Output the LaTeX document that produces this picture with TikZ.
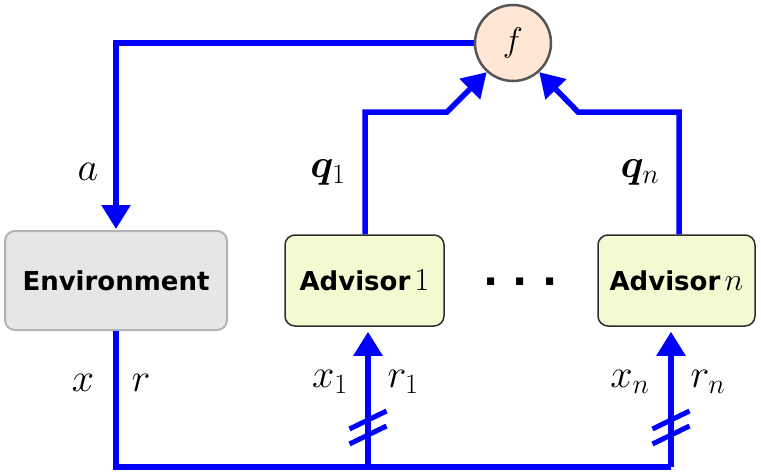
\RequirePackage{fix-cm}
\documentclass[tikz,border=0pt]{standalone}
\usepackage{bm}
\usepackage{fontspec}
\newfontfamily\dejab{DejaVu Sans}
\usetikzlibrary{arrows.meta,calc}
\definecolor{envfill}{HTML}{E6E6E6}
\definecolor{envdraw}{HTML}{B3B3B3}
\definecolor{advfill}{HTML}{F4F9D2}
\definecolor{advdraw}{HTML}{2E2E2E}
\definecolor{ffill}{HTML}{FFE6D5}
\definecolor{fdraw}{HTML}{555555}
\definecolor{wire}{HTML}{0000FF}
\tikzset{
  wirestyle/.style={draw=wire, line width=5.5pt},
  arr/.style={-{Triangle[length=24pt,width=28pt]}},
  envbox/.style={draw=envdraw, fill=envfill, line width=2pt, rounded corners=10pt, inner sep=0pt},
  advbox/.style={draw=advdraw, fill=advfill, line width=1.5pt, rounded corners=10pt, inner sep=0pt},
  fcirc/.style={circle, draw=fdraw, fill=ffill, line width=2.5pt, minimum size=76pt, inner sep=0pt},
  lbl/.style={font=\fontsize{40}{48}\selectfont, inner sep=0pt},
  boxtext/.style={font=\dejab\bfseries\fontsize{26}{30}\selectfont},
}
\begin{document}
\begin{tikzpicture}[x=1pt,y=-1pt]
\useasboundingbox (0,0) rectangle (761,474);
% nodes
\node[fcirc] (f) at (513,43) {\fontsize{34}{40}\selectfont$f$};
\node[envbox, minimum width=222pt, minimum height=99pt, boxtext] (env) at (116,280.5) {Environment};
\node[advbox, minimum width=159pt, minimum height=91pt, boxtext] (adv1) at (364.5,280.5) {Advisor\,{\fontsize{32}{36}\selectfont$1$}};
\node[advbox, minimum width=157pt, minimum height=91pt, boxtext] (advn) at (676.5,280.5) {Advisor\,{\fontsize{32}{36}\selectfont$n$}};
\node[anchor=base, inner sep=0pt, font=\dejab\bfseries\fontsize{40}{48}\selectfont] (dots) at (520.5,285) {.\ .\ .};
% coordinates
\coordinate (t1) at (447,112);
\coordinate (tn) at (578,112);
\coordinate (b1) at (368,467);
\coordinate (bn) at (671,467);
\coordinate (s1) at (368,420);
\coordinate (s1b) at (368,435);
\coordinate (sn) at (671,420);
\coordinate (snb) at (671,435);
% connectors
\draw[wirestyle, arr, shorten >=1pt] (f.west) -| (env.north);
\draw[wirestyle, arr] (adv1.north -| 365,0) |- (t1) -- (f.228);
\draw[wirestyle, arr] (advn.north -| 679,0) |- (tn) -- (f.312);
\draw[wirestyle] (env.south) |- (bn);
\draw[wirestyle, arr, shorten >=5pt] (b1) -- (b1 |- adv1.south);
\draw[wirestyle, arr, shorten >=5pt] (bn) -- (bn |- advn.south);
% slash marks
\foreach \c in {s1,s1b,sn,snb}{
  \draw[draw=wire, line width=5pt] ($(\c)+(-18.5,9)$) -- ($(\c)+(18.5,-9)$);
}
% labels
\node[lbl] (la) at (88,172) {$a$};
\node[lbl] (lq1) at (328,172) {$\bm{q}_1$};
\node[lbl] (lqn) at (640,172) {$\bm{q}_n$};
\node[lbl] (lx) at (83,383) {$x$};
\node[lbl] (lr) at (141,383) {$r$};
\node[lbl] (lx1) at (330,382) {$x_1$};
\node[lbl] (lr1) at (403,382) {$r_1$};
\node[lbl] (lxn) at (630,382) {$x_n$};
\node[lbl] (lrn) at (708,382) {$r_n$};
\end{tikzpicture}
\end{document}
